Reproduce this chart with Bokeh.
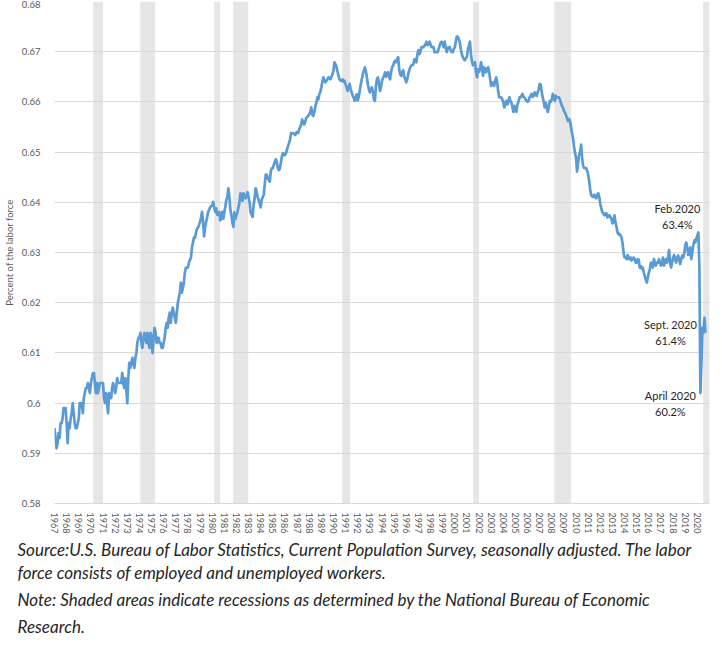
from bokeh.plotting import figure
from bokeh.models import FixedTicker, CustomJSTickFormatter, BoxAnnotation, Label, Title, Range1d, AllLabels
from bokeh.embed import file_html
from bokeh.resources import INLINE

# ---- data (civilian labor force participation rate, monthly, seasonally adjusted) ----
start_year = 1967
lfpr_1967_1976 = [
    0.595, 0.593, 0.591, 0.592, 0.594, 0.593, 0.596, 0.596, 0.597, 0.599, 0.599, 0.599,
    0.596, 0.592, 0.596, 0.595, 0.597, 0.598, 0.600, 0.598, 0.596, 0.595, 0.595, 0.596,
    0.597, 0.600, 0.600, 0.600, 0.598, 0.601, 0.602, 0.603, 0.603, 0.604, 0.603, 0.602,
    0.604, 0.605, 0.606, 0.606, 0.604, 0.602, 0.604, 0.602, 0.603, 0.604, 0.604, 0.604,
    0.604, 0.601, 0.600, 0.602, 0.600, 0.598, 0.602, 0.601, 0.601, 0.603, 0.604, 0.603,
    0.602, 0.603, 0.605, 0.604, 0.604, 0.604, 0.604, 0.606, 0.604, 0.603, 0.605, 0.603,
    0.600, 0.605, 0.608, 0.607, 0.608, 0.609, 0.608, 0.607, 0.609, 0.610, 0.612, 0.613,
    0.613, 0.614, 0.612, 0.611, 0.613, 0.614, 0.613, 0.612, 0.614, 0.612, 0.611, 0.614,
    0.613, 0.610, 0.613, 0.615, 0.614, 0.612, 0.613, 0.613, 0.612, 0.612, 0.611, 0.611,
    0.612, 0.613, 0.615, 0.616, 0.615, 0.617, 0.618, 0.616, 0.618, 0.619, 0.618, 0.617,
]
lfpr_1977_1986 = [
    0.616, 0.618, 0.620, 0.621, 0.622, 0.624, 0.622, 0.623, 0.624, 0.626, 0.627, 0.627,
    0.627, 0.628, 0.6285, 0.629, 0.631, 0.632, 0.633, 0.6329, 0.634, 0.6347, 0.635, 0.6355,
    0.6361, 0.637, 0.6381, 0.636, 0.6332, 0.635, 0.6361, 0.637, 0.6381, 0.6385, 0.639, 0.6392,
    0.6394, 0.6401, 0.639, 0.6381, 0.6388, 0.6375, 0.6375, 0.6381, 0.6364, 0.637, 0.6381, 0.6367,
    0.638, 0.6391, 0.6405, 0.641, 0.6428, 0.641, 0.6385, 0.6374, 0.636, 0.6351, 0.638, 0.6367,
    0.6374, 0.638, 0.639, 0.640, 0.6418, 0.6405, 0.6403, 0.6418, 0.641, 0.6408, 0.6415, 0.642,
    0.641, 0.640, 0.638, 0.6375, 0.6371, 0.6395, 0.6408, 0.6428, 0.6421, 0.641, 0.6405, 0.6398,
    0.639, 0.6405, 0.641, 0.6415, 0.6435, 0.6455, 0.6455, 0.6448, 0.6444, 0.6441, 0.6462, 0.6468,
    0.6468, 0.6475, 0.6481, 0.6486, 0.648, 0.6468, 0.6464, 0.6468, 0.648, 0.6492, 0.6498, 0.6494,
    0.6494, 0.6498, 0.6505, 0.6512, 0.6518, 0.6525, 0.6538, 0.6538, 0.6538, 0.6536, 0.6534, 0.6538,
]
lfpr_1987_1996 = [
    0.654, 0.6538, 0.6545, 0.655, 0.6555, 0.6565, 0.656, 0.6555, 0.656, 0.6568, 0.657, 0.6572,
    0.6575, 0.658, 0.6589, 0.6575, 0.6572, 0.658, 0.659, 0.6598, 0.6609, 0.6605, 0.6615, 0.662,
    0.6629, 0.664, 0.6649, 0.6642, 0.6639, 0.6642, 0.6645, 0.6649, 0.6647, 0.6645, 0.665, 0.6655,
    0.6663, 0.6679, 0.6675, 0.667, 0.666, 0.6652, 0.6645, 0.6642, 0.6642, 0.6645, 0.664, 0.6642,
    0.6635, 0.6629, 0.6622, 0.663, 0.6636, 0.6625, 0.6619, 0.6612, 0.6608, 0.6602, 0.661, 0.6615,
    0.6603, 0.661, 0.6622, 0.6635, 0.6645, 0.6655, 0.6662, 0.6669, 0.6662, 0.665, 0.6635, 0.6625,
    0.6619, 0.6625, 0.6629, 0.662, 0.6605, 0.6602, 0.6632, 0.6645, 0.6649, 0.6636, 0.6622, 0.663,
    0.6642, 0.6648, 0.6652, 0.6659, 0.665, 0.6655, 0.6659, 0.665, 0.6645, 0.666, 0.6669, 0.6672,
    0.6679, 0.6682, 0.6679, 0.6685, 0.6689, 0.6665, 0.6655, 0.6652, 0.6659, 0.6663, 0.665, 0.6645,
    0.6639, 0.6645, 0.6656, 0.6663, 0.6669, 0.6673, 0.6673, 0.6675, 0.6685, 0.6685, 0.6679, 0.6695,
]
lfpr_1997_2006 = [
    0.6703, 0.6695, 0.670, 0.6709, 0.6709, 0.6709, 0.6712, 0.6715, 0.672, 0.6713, 0.6715, 0.672,
    0.6715, 0.6709, 0.6709, 0.6709, 0.6699, 0.6699, 0.6699, 0.6699, 0.6705, 0.6712, 0.6718, 0.672,
    0.6715, 0.6709, 0.672, 0.6709, 0.6699, 0.6705, 0.6709, 0.6709, 0.6703, 0.6699, 0.6699, 0.6705,
    0.6709, 0.672, 0.673, 0.673, 0.6725, 0.6718, 0.6705, 0.6695, 0.6689, 0.6685, 0.6683, 0.6687,
    0.669, 0.6705, 0.6712, 0.672, 0.6695, 0.668, 0.6673, 0.6676, 0.6679, 0.666, 0.6649, 0.6665,
    0.666, 0.6665, 0.6679, 0.6666, 0.6652, 0.6669, 0.6666, 0.6659, 0.6665, 0.6669, 0.666, 0.6645,
    0.6632, 0.6636, 0.6639, 0.6632, 0.6642, 0.6649, 0.6638, 0.662, 0.6609, 0.6609, 0.6609, 0.6605,
    0.660, 0.6589, 0.6596, 0.6602, 0.6595, 0.660, 0.6609, 0.6602, 0.6599, 0.659, 0.658, 0.6592,
    0.659, 0.658, 0.6595, 0.660, 0.6609, 0.6609, 0.6612, 0.6616, 0.661, 0.6609, 0.6605, 0.6602,
    0.660, 0.6602, 0.6609, 0.6612, 0.6616, 0.661, 0.6612, 0.6619, 0.6615, 0.6612, 0.6619, 0.6625,
]
lfpr_2007_2020 = [
    0.6636, 0.6634, 0.662, 0.6609, 0.660, 0.6589, 0.6598, 0.659, 0.658, 0.659, 0.6602, 0.660,
    0.6605, 0.6616, 0.6609, 0.6602, 0.6612, 0.6609, 0.6609, 0.6609, 0.6605, 0.6598, 0.6592, 0.6589,
    0.6582, 0.6578, 0.6574, 0.6568, 0.6562, 0.6566, 0.6562, 0.655, 0.6538, 0.6528, 0.651, 0.6498,
    0.6488, 0.6461, 0.6478, 0.6495, 0.650, 0.6515, 0.6488, 0.6472, 0.6468, 0.6468, 0.6468, 0.6462,
    0.6455, 0.6442, 0.6425, 0.6414, 0.6412, 0.6411, 0.6415, 0.641, 0.6408, 0.6415, 0.6418, 0.641,
    0.6396, 0.6388, 0.638, 0.6378, 0.6374, 0.6378, 0.6378, 0.637, 0.6374, 0.6374, 0.637, 0.6367,
    0.6358, 0.636, 0.6374, 0.636, 0.6351, 0.634, 0.6336, 0.6337, 0.6334, 0.633, 0.6318, 0.630,
    0.629, 0.629, 0.6287, 0.6295, 0.6287, 0.6287, 0.629, 0.6284, 0.6287, 0.629, 0.6287, 0.628,
    0.628, 0.6287, 0.6285, 0.627, 0.6273, 0.6268, 0.627, 0.626, 0.6253, 0.6245, 0.624, 0.625,
    0.626, 0.6267, 0.628, 0.6275, 0.627, 0.6287, 0.628, 0.6274, 0.628, 0.628, 0.6287, 0.628,
    0.6274, 0.628, 0.629, 0.6274, 0.628, 0.6287, 0.628, 0.629, 0.6305, 0.628, 0.627, 0.628,
    0.629, 0.6295, 0.6287, 0.628, 0.629, 0.6294, 0.6285, 0.6277, 0.6287, 0.6294, 0.629, 0.6298,
    0.6314, 0.632, 0.631, 0.6295, 0.630, 0.631, 0.6287, 0.630, 0.6315, 0.6324, 0.632, 0.6328,
    0.6334, 0.634, 0.627, 0.602, 0.608, 0.615, 0.614, 0.617, 0.614,
]

# shaded recession spans (decimal years, as drawn)
rec_start = [1970.19, 1974.07, 1980.17, 1981.73, 1990.72, 2001.52, 2008.20, 2020.48]
rec_end   = [1971.01, 1975.30, 1980.66, 1982.97, 1991.37, 2002.01, 2009.60, 2021.00]

# call-outs: (year, month, text)
note_year  = [2020, 2020, 2020]
note_month = [2, 9, 4]
note_text  = ["Feb.2020\n63.4%", "Sept. 2020\n61.4%", "April 2020\n60.2%"]

year_ticks = list(range(1967, 2021))
y_ticks = [0.58, 0.59, 0.60, 0.61, 0.62, 0.63, 0.64, 0.65, 0.66, 0.67, 0.68]

footer = [
    "Source:U.S. Bureau of Labor Statistics, Current Population Survey, seasonally adjusted. The labor",
    "force consists of employed and unemployed workers.",
    "Note: Shaded areas indicate recessions as determined by the National Bureau of Economic",
    "Research.",
]

# ---- build ----
lfpr = lfpr_1967_1976 + lfpr_1977_1986 + lfpr_1987_1996 + lfpr_1997_2006 + lfpr_2007_2020
xs = [start_year + i / 12.0 for i in range(len(lfpr))]

FONT = "Lato"
GRAY = "#595959"

p = figure(frame_width=655, height=636, output_backend="svg", toolbar_location=None,
           x_range=Range1d(1967, 2021), y_range=Range1d(0.58, 0.68),
           min_border_left=45, min_border_right=6, min_border_top=1, min_border_bottom=0)
p.outline_line_color = None
p.background_fill_color = "white"

for s, e in zip(rec_start, rec_end):
    p.add_layout(BoxAnnotation(left=s, right=e, fill_color="#e6e6e6", fill_alpha=1.0,
                               line_color=None, level="image",
                               hatch_pattern="v_line", hatch_color="#f0f0f0",
                               hatch_scale=4, hatch_weight=1.2, hatch_alpha=1.0))

p.line(xs, lfpr, line_color="#5B9BD5", line_width=2.7, line_join="round")

# grid
p.xgrid.grid_line_color = None
p.ygrid.grid_line_color = "#d9d9d9"
p.ygrid.grid_line_width = 1
p.ygrid.ticker = FixedTicker(ticks=y_ticks)

# y axis
p.yaxis.ticker = FixedTicker(ticks=y_ticks)
p.yaxis.formatter = CustomJSTickFormatter(code="return String(Math.round(tick*100)/100);")
p.yaxis.axis_line_color = None
p.yaxis.major_tick_line_color = None
p.yaxis.minor_tick_line_color = None
p.yaxis.major_label_text_font = FONT
p.yaxis.major_label_text_font_size = "9.5px"
p.yaxis.major_label_text_color = GRAY
p.yaxis.major_label_standoff = 8
p.yaxis.axis_label = "Percent of the labor force"
p.yaxis.axis_label_text_font = FONT
p.yaxis.axis_label_text_font_size = "9.5px"
p.yaxis.axis_label_text_font_style = "normal"
p.yaxis.axis_label_text_color = GRAY
p.yaxis.axis_label_standoff = 4

# x axis
p.xaxis.ticker = FixedTicker(ticks=year_ticks)
p.xaxis.formatter = CustomJSTickFormatter(code="return String(Math.round(tick));")
p.xaxis.major_label_orientation = "vertical"
p.xaxis.major_label_policy = AllLabels()
p.xaxis.axis_line_color = "#d9d9d9"
p.xaxis.major_tick_line_color = None
p.xaxis.minor_tick_line_color = None
p.xaxis.major_label_text_font = FONT
p.xaxis.major_label_text_font_size = "9px"
p.xaxis.major_label_text_color = GRAY
p.xaxis.major_label_standoff = 3

# call-outs anchored to data points
offsets = [(-21, 1, "bottom"), (-35, 0, "middle"), (-30, 4, "top")]
for yr, mo, txt, (dx, dy, base) in zip(note_year, note_month, note_text, offsets):
    idx = (yr - start_year) * 12 + (mo - 1)
    p.add_layout(Label(x=xs[idx], y=lfpr[idx], text=txt, x_offset=dx, y_offset=dy,
                       text_align="center", text_baseline=base,
                       text_font=FONT, text_font_size="11px", text_color="#262626",
                       text_line_height=1.25))

# footer notes
standoffs = [0, 0, 8, 0]
for line, so in zip(footer, standoffs):
    p.add_layout(Title(text=line, align="left", offset=-37, standoff=so,
                       text_font=FONT, text_font_size="17px", text_font_style="italic",
                       text_color="#262626"), "below")

open("out.html", "w").write(file_html(p, INLINE))
